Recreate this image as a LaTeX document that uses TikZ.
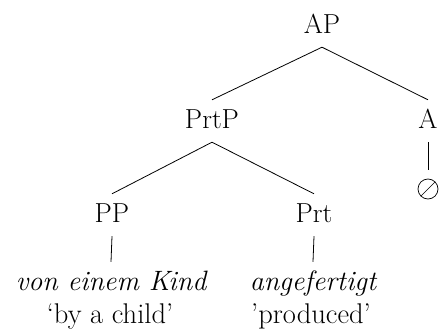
\documentclass[tikz,border=0pt]{standalone}
\usepackage{fontspec}
\begin{document}
\begin{tikzpicture}[x=1pt,y=1pt,
  cat/.style={anchor=base, font=\fontsize{27.5}{33}\selectfont,
    text height=18pt, text depth=4pt, inner xsep=0pt, inner ysep=10pt},
  word/.style={cat, font=\fontsize{28}{33}\selectfont\itshape},
  gloss/.style={anchor=base, font=\fontsize{28.5}{33}\selectfont, inner sep=0pt},
  branch/.style={line width=0.8pt},
  nullmark/.style={draw, circle, minimum size=20pt, inner sep=0pt, line width=0.7pt,
    path picture={\draw[line width=0.7pt] (path picture bounding box.south west)
      -- (path picture bounding box.north east);}}]
\useasboundingbox (0,0) rectangle (440,333);

% category labels
\node[cat] (AP)   at (322,300) {AP};
\node[cat] (PrtP) at (212,205) {PrtP};
\node[cat] (A)    at (428,205) {A};
\node[cat] (PP)   at (112,111) {PP};
\node[cat] (Prt)  at (314,111) {Prt};

% terminals and glosses
\node[word] (kind)  at (111,43) {von einem Kind};
\node[word] (angef) at (313,43) {angefertigt};
\node[gloss] (gkind)  at (110,10) {`by a child'};
\node[gloss] (gangef) at (311,10) {'produced'};

% empty head
\node[nullmark] (null) at (428,144) {};

% branches
\draw[branch] (AP.south) -- (PrtP.north);
\draw[branch] (AP.south) -- (A.north);
\draw[branch] (PrtP.south) -- (PP.north);
\draw[branch] (PrtP.south) -- (Prt.north);
\draw[branch] (PP.south) -- (kind.north);
\draw[branch] (Prt.south) -- (angef.north);
\draw[branch, shorten >=9pt] (A.south) -- (null.north);
\end{tikzpicture}
\end{document}
